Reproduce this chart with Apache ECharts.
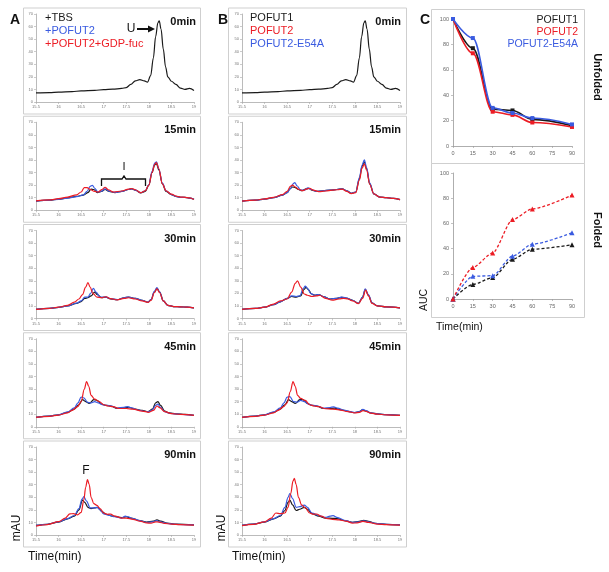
<!DOCTYPE html>
<html><head><meta charset="utf-8">
<script src="https://cdn.jsdelivr.net/npm/echarts/dist/echarts.min.js"></script>
<style>html,body{margin:0;padding:0;background:#fff}#c{width:609px;height:572px}</style>
</head><body><div id="c"></div>
<script>
// ---------- DATA ----------
// Chromatogram curves: [time(min), mAU]
const t0 = [[15.5,7.2],[15.8,7.5],[16,7.8],[16.3,8.3],[16.5,8.8],[16.8,9.3],[17,9.8],[17.2,10.2],[17.4,10.8],[17.5,11.5],[17.6,14],[17.7,16.8],[17.8,17.8],[17.9,16.8],[17.97,15.8],[18.04,21],[18.1,35],[18.15,52],[18.2,63],[18.23,64.5],[18.27,58],[18.32,42],[18.37,28],[18.42,20],[18.5,16.5],[18.6,14],[18.7,11],[18.8,10],[18.9,10.8],[19,9.2]];

const a15Black = [[15.5,7.3],[15.8,8],[16,8.8],[16.2,9.8],[16.4,11],[16.55,12],[16.65,14],[16.72,16.8],[16.78,16.5],[16.86,14],[16.95,15],[17.03,16.5],[17.12,15],[17.25,14],[17.4,15],[17.55,16.5],[17.62,17],[17.7,16],[17.82,13.8],[17.92,15],[18.0,20],[18.07,30],[18.13,36],[18.17,37],[18.22,32],[18.3,21],[18.38,15],[18.5,12.5],[18.6,11],[18.7,10.3],[18.8,10.2],[18.9,9.7],[19,8.7]];
const a15Blue = [[15.5,7.3],[15.8,8],[16,8.7],[16.2,9.6],[16.4,10.8],[16.55,12.2],[16.63,15],[16.7,19],[16.75,19.8],[16.8,17.5],[16.87,14.5],[16.95,15.2],[17.03,17],[17.12,15.2],[17.25,14.2],[17.4,15],[17.55,16.5],[17.62,17],[17.7,16],[17.82,14],[17.92,15.5],[18.0,20.5],[18.07,31],[18.13,37.5],[18.17,38.5],[18.22,33],[18.3,21.5],[18.38,15.5],[18.5,12.5],[18.6,11],[18.7,10.3],[18.8,10.2],[18.9,9.7],[19,8.7]];
const a15Red = [[15.5,7.4],[15.8,8.2],[16,9.2],[16.2,10.5],[16.4,12.3],[16.5,14.5],[16.57,18],[16.63,18],[16.7,16.5],[16.8,15],[16.88,14.5],[16.96,16.5],[17.03,18.3],[17.1,16.3],[17.22,14.5],[17.4,15.3],[17.55,16.8],[17.62,17.3],[17.7,16.3],[17.82,14],[17.92,15.5],[18.0,20],[18.07,30],[18.13,36.5],[18.17,38],[18.22,33],[18.3,21],[18.38,15.5],[18.5,12.8],[18.6,11.3],[18.7,10.5],[18.8,10.3],[18.9,9.8],[19,8.6]];

const a30Black = [[15.5,7.2],[15.8,8],[16,8.8],[16.2,10],[16.4,12],[16.5,13.5],[16.58,16],[16.65,16.5],[16.72,18],[16.8,21],[16.86,19],[16.95,16.5],[17.05,17],[17.15,15.5],[17.3,15],[17.45,16.5],[17.55,17],[17.7,16],[17.85,14.5],[17.98,13],[18.05,15],[18.12,21],[18.18,24],[18.24,21],[18.32,14],[18.42,10.5],[18.55,9.5],[18.7,9.3],[18.85,9],[19,8.5]];
const a30Blue = [[15.5,7.2],[15.8,8],[16,8.8],[16.2,10],[16.4,12.3],[16.5,14],[16.58,17],[16.65,17],[16.71,20],[16.77,24],[16.83,21],[16.92,17],[17.05,17],[17.15,15.8],[17.3,15],[17.45,16.5],[17.55,17],[17.7,16],[17.85,14.5],[17.98,13],[18.05,15],[18.12,21.5],[18.18,24.5],[18.24,21],[18.32,14],[18.42,10.5],[18.55,9.5],[18.7,9.3],[18.85,9],[19,8.5]];
const a30Red = [[15.5,7.2],[15.8,8.1],[16,9],[16.2,10.5],[16.35,13],[16.45,15.5],[16.53,19],[16.6,25],[16.65,28.5],[16.7,25],[16.76,20],[16.85,17],[16.95,16.5],[17.05,17.3],[17.15,15.8],[17.3,14.8],[17.45,16],[17.55,16.5],[17.7,15.5],[17.85,14],[17.98,12.8],[18.05,14.5],[18.12,20.5],[18.18,23.5],[18.24,20.5],[18.32,14],[18.42,10.5],[18.55,9.5],[18.7,9.3],[18.85,9],[19,8.5]];

const a45Black = [[15.5,7.5],[15.8,8.5],[16,9.5],[16.2,11.5],[16.35,14],[16.45,17.5],[16.53,21.5],[16.6,20],[16.68,18.5],[16.78,21.5],[16.85,21],[16.95,18],[17.05,17],[17.15,16.5],[17.3,14.5],[17.45,15],[17.55,15.5],[17.7,14],[17.85,13],[17.98,12],[18.08,14],[18.15,19],[18.2,20],[18.26,17],[18.35,12.5],[18.45,11],[18.6,10.3],[18.8,9.8],[19,9]];
const a45Blue = [[15.5,7.5],[15.8,8.5],[16,9.5],[16.2,11.8],[16.35,15],[16.43,19],[16.5,23.5],[16.56,23],[16.64,19.5],[16.72,19],[16.8,20],[16.88,19],[16.97,17.5],[17.07,17],[17.17,16.5],[17.3,14.8],[17.45,15.5],[17.53,16],[17.62,15],[17.75,13.5],[17.9,12.3],[18.0,12],[18.08,13.5],[18.15,17],[18.2,18],[18.26,15.5],[18.35,12],[18.45,10.8],[18.6,10.2],[18.8,9.7],[19,9]];
const a45Red = [[15.5,7.5],[15.8,8.3],[16,9.3],[16.2,11],[16.3,13],[16.42,16],[16.5,20],[16.57,30],[16.62,36],[16.67,32],[16.72,25],[16.8,22],[16.9,20],[17,17.5],[17.1,16.5],[17.2,16],[17.35,14.5],[17.5,14.5],[17.65,14],[17.85,12.5],[18,11.5],[18.1,13],[18.18,16.5],[18.25,15],[18.35,12],[18.5,10.5],[18.7,9.8],[19,9]];

const a90Black = [[15.5,7.6],[15.75,8.5],[16,10.3],[16.2,12.8],[16.35,15],[16.45,20],[16.53,27.7],[16.58,26],[16.65,22],[16.72,21],[16.8,21.5],[16.87,22],[16.95,19],[17.05,16.5],[17.2,15],[17.4,13.8],[17.5,14.5],[17.6,13.5],[17.8,11.5],[17.95,10.2],[18.1,11],[18.18,12],[18.26,11],[18.4,9.5],[18.6,8.6],[19,8]];
const a90Blue = [[15.5,7.6],[15.75,8.5],[16,10.5],[16.2,13],[16.35,15.5],[16.45,21],[16.52,28.5],[16.56,30.5],[16.62,27],[16.7,21.5],[16.78,21.5],[16.85,22],[16.92,20],[17.0,16.8],[17.1,15.8],[17.25,14.5],[17.4,13.5],[17.48,15],[17.54,14.5],[17.65,13],[17.8,11.5],[17.95,10],[18.08,10.5],[18.17,11.5],[18.25,10.5],[18.4,9.2],[18.6,8.5],[19,8]];
const a90Red = [[15.5,7.1],[15.75,8.3],[16,10.6],[16.15,13.5],[16.25,16.8],[16.33,17],[16.42,16],[16.5,18],[16.56,28],[16.6,38],[16.64,44],[16.68,40],[16.72,30],[16.78,25],[16.85,23.5],[16.92,21],[17.0,17.5],[17.08,16.5],[17.15,16.6],[17.25,15],[17.4,13.5],[17.5,13.5],[17.65,12.5],[17.8,11],[17.95,9.6],[18.05,9.4],[18.15,10.5],[18.22,10.3],[18.35,9.2],[18.5,8.7],[18.7,8.3],[19,7.9]];

const b15Black = [[15.5,7.3],[15.8,8],[16,8.9],[16.2,10],[16.4,12],[16.5,14],[16.56,17],[16.62,18.5],[16.68,18],[16.75,16.5],[16.83,15.5],[16.92,17],[16.98,17.5],[17.05,16],[17.15,15],[17.3,15.5],[17.45,16],[17.6,16.5],[17.72,17],[17.82,15.5],[17.92,13.5],[18.02,14.5],[18.1,25],[18.16,35],[18.21,38.5],[18.26,33],[18.33,21],[18.42,13],[18.55,10.5],[18.7,10],[18.85,9.5],[19,8.5]];
const b15Blue = [[15.5,7.3],[15.8,8],[16,8.9],[16.2,10],[16.4,12],[16.5,14],[16.57,17],[16.63,21],[16.67,22],[16.72,19.5],[16.8,16],[16.88,16],[16.96,17.8],[17.03,16.5],[17.15,15],[17.3,15.5],[17.45,16],[17.6,16.5],[17.72,17],[17.82,15.5],[17.92,13.5],[18.02,14.5],[18.1,26],[18.16,36],[18.21,40],[18.26,34],[18.33,21.5],[18.42,13],[18.55,10.5],[18.7,10],[18.85,9.5],[19,8.5]];
const b15Red = [[15.5,7.3],[15.8,8.1],[16,9],[16.2,10.3],[16.4,12.5],[16.5,15],[16.57,19],[16.62,20],[16.68,18.5],[16.76,16.5],[16.85,15.5],[16.94,17],[17.0,17.5],[17.08,16],[17.2,14.8],[17.35,15.3],[17.5,16],[17.62,16.3],[17.72,16.8],[17.82,15],[17.92,13.3],[18.02,14],[18.1,24],[18.16,33.5],[18.21,37],[18.26,32],[18.33,20.5],[18.42,13],[18.55,10.5],[18.7,10],[18.85,9.4],[19,8.4]];

const b30Black = [[15.5,7.3],[15.8,8],[16,9],[16.2,11],[16.35,13.3],[16.5,16],[16.6,17.5],[16.7,17],[16.8,18],[16.87,23],[16.92,24.7],[16.97,23],[17.04,19.5],[17.12,18.5],[17.2,19],[17.3,17.5],[17.45,15.5],[17.6,16],[17.7,16.8],[17.8,16.3],[17.95,14.5],[18.08,12],[18.17,17],[18.23,23],[18.3,18.5],[18.38,12.5],[18.5,10],[18.7,9.2],[19,8.5]];
const b30Blue = [[15.5,7.3],[15.8,8],[16,9],[16.2,11],[16.35,13.3],[16.5,16],[16.6,18],[16.7,17.5],[16.78,18],[16.86,24],[16.9,25.8],[16.95,24],[17.02,20],[17.1,18.5],[17.2,19],[17.3,17.5],[17.45,15.5],[17.6,16],[17.7,17],[17.8,16.5],[17.95,14.5],[18.08,12],[18.17,17],[18.23,23.5],[18.3,19],[18.38,12.5],[18.5,10],[18.7,9.2],[19,8.5]];
const b30Red = [[15.5,7.3],[15.8,8],[16,9],[16.2,11.5],[16.35,14],[16.5,15.5],[16.6,21],[16.68,28],[16.73,30],[16.8,25],[16.88,19.5],[16.95,18.5],[17.05,17.5],[17.15,18],[17.22,18.5],[17.35,16],[17.5,14.6],[17.65,15.5],[17.75,16],[17.85,15.5],[17.95,14],[18.08,11.8],[18.17,16],[18.24,22.5],[18.3,18],[18.38,12],[18.5,10],[18.7,9.2],[19,8.5]];

const b45Black = [[15.5,7.5],[15.8,8.5],[16,9.5],[16.2,11.5],[16.35,14],[16.45,17.5],[16.53,21.5],[16.6,20],[16.68,18.5],[16.78,21.5],[16.85,21.5],[16.95,18.5],[17.05,17],[17.15,16.5],[17.3,14.5],[17.45,14.5],[17.55,14.8],[17.7,13.5],[17.85,12.3],[17.98,11.2],[18.08,11.8],[18.17,13.5],[18.25,12.5],[18.35,11],[18.5,10.2],[18.7,9.6],[19,9]];
const b45Blue = [[15.5,7.5],[15.8,8.5],[16,9.5],[16.2,11.8],[16.35,15],[16.43,19],[16.5,23.5],[16.56,24],[16.64,20],[16.72,19.5],[16.8,21],[16.88,20],[16.97,18],[17.07,17],[17.17,16.5],[17.3,14.8],[17.45,15.3],[17.53,15.8],[17.62,14.8],[17.75,13.3],[17.9,12],[18.0,11.3],[18.1,12],[18.18,13.8],[18.25,12.8],[18.35,11],[18.5,10.2],[18.7,9.6],[19,9]];
const b45Red = [[15.5,7.5],[15.8,8.3],[16,9.3],[16.2,11],[16.3,13],[16.42,16],[16.5,19],[16.57,28],[16.63,36],[16.68,32],[16.73,25],[16.8,22.5],[16.9,21],[17,17.5],[17.1,16.5],[17.2,16],[17.35,14.3],[17.5,14],[17.65,13.5],[17.85,12],[18,11],[18.1,11.5],[18.18,12.8],[18.25,12.2],[18.35,10.8],[18.5,10],[18.7,9.5],[19,9]];

const b90Black = [[15.5,7.6],[15.75,8.6],[16,10.3],[16.2,12.8],[16.35,15],[16.45,19.5],[16.52,26],[16.56,27.8],[16.62,24],[16.7,19.5],[16.78,20.5],[16.88,22],[16.95,20.5],[17.05,17],[17.2,15],[17.35,13.5],[17.5,13.3],[17.6,13],[17.8,11.3],[17.95,10],[18.1,10.8],[18.2,11.6],[18.3,10.8],[18.45,9.3],[18.7,8.5],[19,8]];
const b90Blue = [[15.5,7.6],[15.75,8.6],[16,10.5],[16.2,13],[16.35,15.5],[16.45,22],[16.52,30],[16.56,33],[16.62,29],[16.7,22],[16.78,22.5],[16.88,23.8],[16.95,22],[17.05,17.5],[17.2,15.5],[17.35,14],[17.45,15],[17.52,15.4],[17.6,14],[17.8,11.5],[17.95,10],[18.1,10.5],[18.2,11.2],[18.3,10.5],[18.45,9.3],[18.7,8.5],[19,8]];
const b90Red = [[15.5,7.4],[15.75,8.4],[16,10.5],[16.15,13.5],[16.25,17.5],[16.35,17],[16.45,17.5],[16.52,22],[16.58,33],[16.63,43],[16.66,45],[16.7,40],[16.75,30],[16.82,24],[16.9,21.5],[17.0,17.5],[17.08,16.5],[17.15,16.7],[17.25,15],[17.4,13],[17.5,12.5],[17.65,12],[17.8,11],[17.95,9.5],[18.05,9.6],[18.18,10.8],[18.3,10],[18.5,8.7],[18.7,8.3],[19,7.9]];

// Panel C
const cTimes = [0, 15, 30, 45, 60, 90];
const unfoldedPOFUT1 = [100, 77, 29, 28, 21, 16];
const unfoldedPOFUT2 = [100, 73, 27, 24.5, 18.5, 15];
const unfoldedE54A   = [100, 85, 30, 26, 22, 17];
const foldedPOFUT1 = [0, 11.5, 17, 31.5, 39.5, 43];
const foldedPOFUT2 = [0, 25, 36.5, 63, 71.5, 82.5];
const foldedE54A   = [0, 18, 18.5, 34, 43.5, 52.5];

const timeLabels = ['0min', '15min', '30min', '45min', '90min'];
const legendA = ['+TBS', '+POFUT2', '+POFUT2+GDP-fuc'];
const legendB = ['POFUT1', 'POFUT2', 'POFUT2-E54A'];

// ---------- BUILD ----------
const BLACK = '#1a1a1a', BLUE = '#3a5be0', RED = '#ec1c24';
const FONT = '"Liberation Sans", Arial, sans-serif';
const chart = echarts.init(document.getElementById('c'));

const grids = [], xAxes = [], yAxes = [], series = [], graphic = [];
const rowTop = i => 14 + 108.25 * i;
const PH = 88;

function chromAxes(left, top) {
  const gi = grids.length;
  grids.push({left: left, top: top, width: 158, height: PH, containLabel: false, outerBoundsMode: 'none'});
  xAxes.push({type: 'value', gridIndex: gi, min: 15.5, max: 19, interval: 0.5,
    axisLine: {show: true, lineStyle: {color: '#aaa', width: 0.8}},
    axisTick: {show: true, length: 2, lineStyle: {color: '#aaa', width: 0.6}},
    axisLabel: {fontSize: 4, color: '#777', margin: 3, fontFamily: FONT},
    splitLine: {show: false}});
  yAxes.push({type: 'value', gridIndex: gi, min: 0, max: 70, interval: 10,
    axisLine: {show: true, lineStyle: {color: '#aaa', width: 0.8}},
    axisTick: {show: true, length: 2, lineStyle: {color: '#aaa', width: 0.6}},
    axisLabel: {fontSize: 4, color: '#777', margin: 3, fontFamily: FONT},
    splitLine: {show: false}});
  return gi;
}
function line(gi, data, color) {
  series.push({type: 'line', xAxisIndex: gi, yAxisIndex: gi, data: data, smooth: 0.35,
    smoothMonotone: 'x', showSymbol: false, symbol: 'none', silent: true, animation: false,
    lineStyle: {color: color, width: 1.2}});
}
function box(x, y, w, h) {
  graphic.push({type: 'rect', shape: {x: x, y: y, width: w, height: h},
    style: {fill: 'none', stroke: '#cfcfcf', lineWidth: 1}, silent: true, z: 0});
}
function text(x, y, s, opts) {
  graphic.push(Object.assign({type: 'text', x: x, y: y, silent: true, z: 10,
    style: Object.assign({text: s, fill: '#111', font: '11px ' + FONT, textAlign: 'left', textVerticalAlign: 'middle'}, opts.style || {})},
    opts.el || {}));
}

const aData = [[t0], [a15Black, a15Blue, a15Red], [a30Black, a30Blue, a30Red], [a45Black, a45Blue, a45Red], [a90Black, a90Blue, a90Red]];
const bData = [[t0], [b15Black, b15Blue, b15Red], [b30Black, b30Blue, b30Red], [b45Black, b45Blue, b45Red], [b90Black, b90Blue, b90Red]];
const colA = [BLACK, BLUE, RED];

for (let i = 0; i < 5; i++) {
  const top = rowTop(i);
  // panel A
  box(23.5, top - 6, 177, 106);
  let gi = chromAxes(36, top);
  aData[i].forEach((d, k) => line(gi, d, colA[k]));
  text(196, top + 8, timeLabels[i], {style: {font: 'bold 11px ' + FONT, textAlign: 'right'}});
  // panel B
  box(228.5, top - 6, 178, 106);
  gi = chromAxes(242, top);
  bData[i].forEach((d, k) => line(gi, d, colA[k]));
  text(401, top + 8, timeLabels[i], {style: {font: 'bold 11px ' + FONT, textAlign: 'right'}});
}

// Panel C grids
function cAxes(top, h) {
  const gi = grids.length;
  grids.push({left: 453, top: top, width: 119, height: h, containLabel: false, outerBoundsMode: 'none'});
  xAxes.push({type: 'value', gridIndex: gi, min: 0, max: 90, interval: 15,
    axisLine: {show: true, lineStyle: {color: '#999', width: 0.8}},
    axisTick: {show: true, length: 2, lineStyle: {color: '#999', width: 0.6}},
    axisLabel: {fontSize: 5.5, color: '#666', margin: 4, fontFamily: FONT},
    splitLine: {show: false}});
  yAxes.push({type: 'value', gridIndex: gi, min: 0, max: 100, interval: 20,
    axisLine: {show: true, lineStyle: {color: '#999', width: 0.8}},
    axisTick: {show: true, length: 2, lineStyle: {color: '#999', width: 0.6}},
    axisLabel: {fontSize: 5.5, color: '#666', margin: 4, fontFamily: FONT},
    splitLine: {show: false}});
  return gi;
}
box(431.5, 9.5, 153, 154);
box(431.5, 163.5, 153, 154);
const cTop = cAxes(19, 127);
const cBot = cAxes(173, 126);
const zip = v => cTimes.map((t, i) => [t, v[i]]);
function cLine(gi, vals, color, dashed) {
  series.push({type: 'line', xAxisIndex: gi, yAxisIndex: gi, data: zip(vals),
    smooth: dashed ? 0.25 : 0.35, smoothMonotone: 'x', animation: false, silent: true,
    symbol: dashed ? 'triangle' : 'rect', symbolSize: dashed ? 5 : 4,
    itemStyle: {color: color},
    lineStyle: {color: color, width: dashed ? 1.3 : 1.6, type: dashed ? [3, 2] : 'solid'}});
}
cLine(cTop, unfoldedPOFUT1, BLACK, false);
cLine(cTop, unfoldedPOFUT2, RED, false);
cLine(cTop, unfoldedE54A, BLUE, false);
cLine(cBot, foldedPOFUT1, BLACK, true);
cLine(cBot, foldedE54A, BLUE, true);
cLine(cBot, foldedPOFUT2, RED, true);

// Labels and legends
text(10, 20, 'A', {style: {font: 'bold 14px ' + FONT}});
text(218, 20, 'B', {style: {font: 'bold 14px ' + FONT}});
text(420, 20, 'C', {style: {font: 'bold 14px ' + FONT}});
[BLACK, BLUE, RED].forEach((c, k) => text(45, 18 + 13 * k, legendA[k], {style: {fill: c, font: '11px ' + FONT}}));
[BLACK, RED, BLUE].forEach((c, k) => text(250, 18 + 13 * k, legendB[k], {style: {fill: c, font: '11px ' + FONT}}));
[BLACK, RED, BLUE].forEach((c, k) => text(578, 20 + 12 * k, legendB[k], {style: {fill: c, font: '10.5px ' + FONT, textAlign: 'right'}}));

// U arrow
text(131, 29, 'U', {style: {font: '12px ' + FONT, textAlign: 'center'}});
graphic.push({type: 'line', shape: {x1: 137, y1: 29, x2: 149, y2: 29}, style: {stroke: '#111', lineWidth: 2}, silent: true, z: 10});
graphic.push({type: 'polygon', shape: {points: [[148, 25.5], [155, 29], [148, 32.5]]}, style: {fill: '#111'}, silent: true, z: 10});
// Bracket I (A 15min)
graphic.push({type: 'polyline', shape: {points: [[101.5, 186], [101.5, 179], [122, 179], [124, 176], [126, 179], [145.5, 179], [145.5, 186]]},
  style: {stroke: '#111', lineWidth: 1.3, fill: 'none'}, silent: true, z: 10});
text(124, 167, 'I', {style: {font: '11px ' + FONT, textAlign: 'center'}});
// F
text(86, 471, 'F', {style: {font: '12px ' + FONT, textAlign: 'center'}});

// Axis titles
text(17, 528, 'mAU', {el: {rotation: Math.PI / 2}, style: {font: '12px ' + FONT, textAlign: 'center'}});
text(222, 528, 'mAU', {el: {rotation: Math.PI / 2}, style: {font: '12px ' + FONT, textAlign: 'center'}});
text(28, 557, 'Time(min)', {style: {font: '12px ' + FONT}});
text(232, 557, 'Time(min)', {style: {font: '12px ' + FONT}});
text(436, 327, 'Time(min)', {style: {font: '10.5px ' + FONT}});
text(424, 300, 'AUC', {el: {rotation: Math.PI / 2}, style: {font: '10.5px ' + FONT, textAlign: 'center'}});
text(597, 77, 'Unfolded', {el: {rotation: -Math.PI / 2}, style: {font: 'bold 11px ' + FONT, textAlign: 'center'}});
text(597, 230, 'Folded', {el: {rotation: -Math.PI / 2}, style: {font: 'bold 11px ' + FONT, textAlign: 'center'}});

chart.setOption({animation: false, backgroundColor: '#fff', grid: grids, xAxis: xAxes, yAxis: yAxes, series: series, graphic: graphic});
</script></body></html>
